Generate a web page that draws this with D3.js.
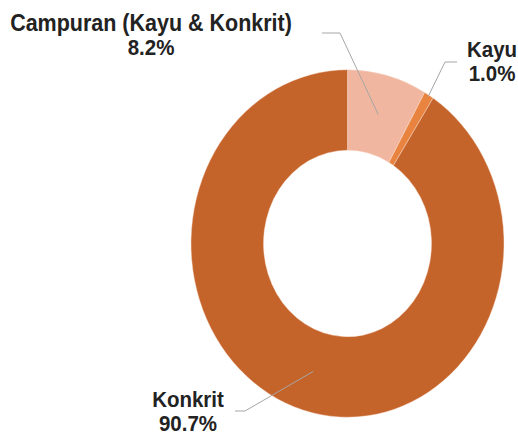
<!DOCTYPE html>
<html>
<head>
<meta charset="utf-8">
<script src="https://cdn.jsdelivr.net/npm/d3@7"></script>
<style>
  html, body { margin: 0; padding: 0; background: #fff; }
  svg { display: block; }
  text { font-family: "Liberation Sans", Arial, sans-serif; font-weight: bold; fill: #222; }
</style>
</head>
<body>
<svg id="chart" width="518" height="436"></svg>
<script>
// Data
const categories = ["Campuran (Kayu & Konkrit)", "Kayu", "Konkrit"];
const values = [8.2, 1.0, 90.7];
const valueLabels = ["8.2%", "1.0%", "90.7%"];
const colors = ["#F1B6A0", "#E8843F", "#C5642A"];

// Layout
const W = 518, H = 436;
const cx = 347.5, cy = 243.5;
const outerR = 156.5, innerR = 84;
const sy = 1.11; // vertical stretch of the reference

// Label layout (text anchor, first baseline, leader elbow + text end)
const labelPos = [
  { x: 151, y: 31, elbow: [340, 33], end: [322, 33], anchorR: "centroid" },
  { x: 492, y: 57, elbow: [445, 62], end: [457, 62], anchorR: 155 },
  { x: 188, y: 407, elbow: [245, 411], end: [235, 411], anchorR: "centroid" }
];

const svg = d3.select("#chart");

const pie = d3.pie().sort(null).value(d => d)(values);
const arc = d3.arc().innerRadius(innerR).outerRadius(outerR);

const g = svg.append("g").attr("transform", `translate(${cx},${cy}) scale(1,${sy})`);
g.selectAll("path")
  .data(pie)
  .join("path")
  .attr("d", arc)
  .attr("fill", (d, i) => colors[i])
  .attr("stroke", "#fbe3d6")
  .attr("stroke-width", 0.4);

// Leader lines
const lines = svg.append("g");
pie.forEach((d, i) => {
  const lp = labelPos[i];
  let p;
  if (lp.anchorR === "centroid") {
    p = arc.centroid(d);
  } else {
    const a = (d.startAngle + d.endAngle) / 2;
    p = [Math.sin(a) * lp.anchorR, -Math.cos(a) * lp.anchorR];
  }
  const px = cx + p[0], py = cy + p[1] * sy;
  lines.append("polyline")
    .attr("points", [[px, py], lp.elbow, lp.end].map(q => q.join(",")).join(" "))
    .attr("fill", "none")
    .attr("stroke", "#A6A6A6")
    .attr("stroke-width", 1);
});

// Labels (slightly stretched vertically, like the reference)
const labels = svg.append("g");
categories.forEach((c, i) => {
  const lp = labelPos[i];
  [c, valueLabels[i]].forEach((s, k) => {
    labels.append("text")
      .attr("text-anchor", "middle")
      .attr("font-size", i === 0 && k === 0 ? 21.5 : 20.5)
      .attr("transform", `translate(${lp.x},${lp.y + k * 24}) scale(1,1.08)`)
      .text(s);
  });
});
</script>
</body>
</html>
